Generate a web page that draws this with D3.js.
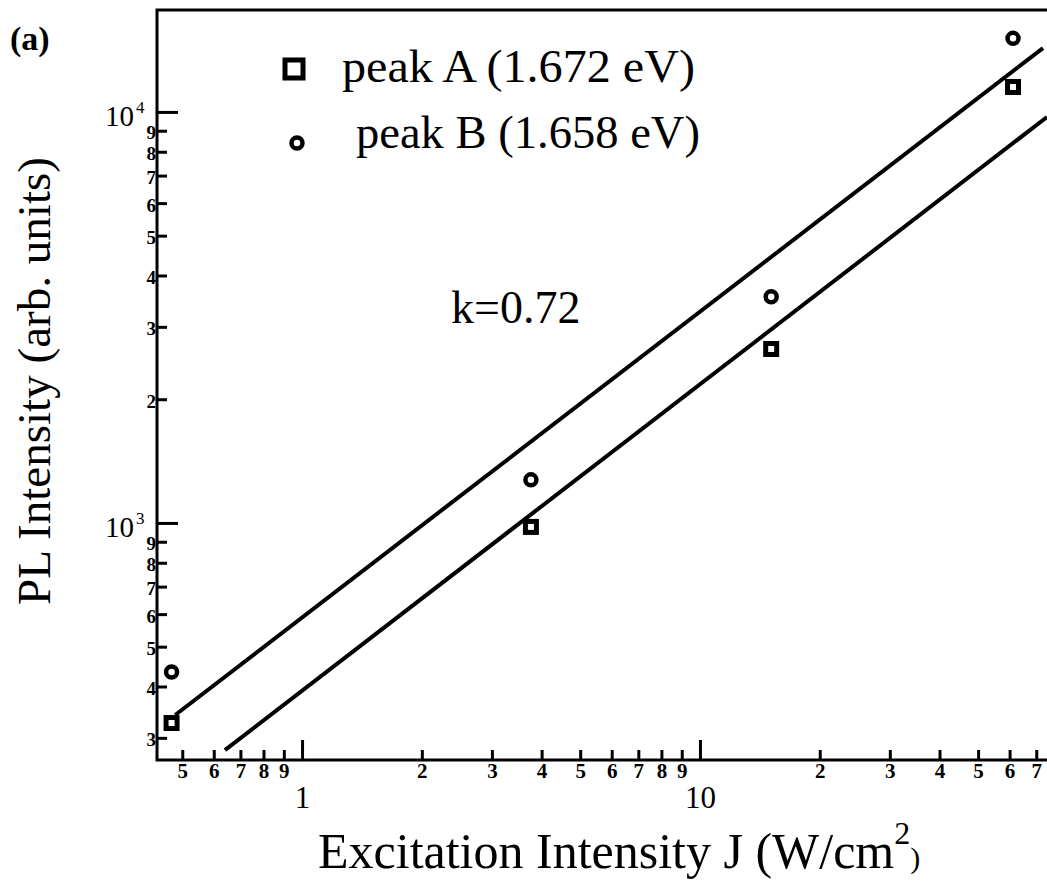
<!DOCTYPE html>
<html>
<head>
<meta charset="utf-8">
<script src="https://d3js.org/d3.v7.min.js"></script>
<style>
    body { margin: 0; background: #fff; }
    svg { display: block; font-family: "Liberation Serif", "Times New Roman", serif; }
</style>
</head>
<body>
<script>
// values
var excitation = [0.47, 3.76, 15.1, 61.2];   // J (W/cm2)
var peakA = [326, 978, 2650, 11500];          // squares
var peakB = [434, 1273, 3550, 15100];         // circles

// the two straight fits (end points)
var fitUpperJ = [0.48, 72.8];
var fitUpperI = [341, 14300];
var fitLowerJ = [0.64, 74.5];
var fitLowerI = [280, 9720];

var xDomain = [0.432, 75.8];
var yDomain = [265, 17700];

var xMinorTicks = [0.5, 0.6, 0.7, 0.8, 0.9, 2, 3, 4, 5, 6, 7, 8, 9, 20, 30, 40, 50, 60, 70];
var xMinorLabels = ['5', '6', '7', '8', '9', '2', '3', '4', '5', '6', '7', '8', '9', '2', '3', '4', '5', '6', '7'];
var xMajorTicks = [1, 10];
var xMajorLabels = ['1', '10'];

var yMinorTicks = [300, 400, 500, 600, 700, 800, 900, 2000, 3000, 4000, 5000, 6000, 7000, 8000, 9000];
var yMinorLabels = ['3', '4', '5', '6', '7', '8', '9', '2', '3', '4', '5', '6', '7', '8', '9'];
var yMajorTicks = [1000, 10000];
var yMajorExp = ['3', '4'];

var legendLabels = ['peak A (1.672 eV)', 'peak B (1.658 eV)'];

var width = 1047,
    height = 889;
// plot frame (right edge sits just off the page)
var pLeft = 157, pRight = 1050, pTop = 10, pBottom = 760;

var svg = d3.select('body')
    .append('svg')
    .attr('width', width)
    .attr('height', height);

// scales
var x = d3.scaleLog().domain(xDomain).range([pLeft, pRight]);
var y = d3.scaleLog().domain(yDomain).range([pBottom, pTop]);

function styleAxis(g, size, weight) {
    g.attr('font-family', '"Liberation Serif", serif')
        .attr('font-size', size)
        .attr('font-weight', weight);
    g.select('.domain').remove();
    g.selectAll('.tick line').attr('stroke', '#000').attr('stroke-width', 3);
    g.selectAll('.tick text').attr('fill', '#000');
}

// x axis, minor then major ticks
svg.append('g')
    .attr('transform', 'translate(0,' + pBottom + ')')
    .call(d3.axisBottom(x).tickValues(xMinorTicks).tickSize(-10).tickPadding(3)
        .tickFormat((d, i) => xMinorLabels[i]))
    .call(g => styleAxis(g, 21, 'bold'));

svg.append('g')
    .attr('transform', 'translate(0,' + pBottom + ')')
    .call(d3.axisBottom(x).tickValues(xMajorTicks).tickSize(-20).tickPadding(26)
        .tickFormat((d, i) => xMajorLabels[i]))
    .call(g => styleAxis(g, 31, 'normal'));

// y axis
svg.append('g')
    .attr('transform', 'translate(' + pLeft + ',0)')
    .call(d3.axisLeft(y).tickValues(yMinorTicks).tickSize(-10).tickPadding(1)
        .tickFormat((d, i) => yMinorLabels[i]))
    .call(g => styleAxis(g, 19, 'bold'))
    .call(g => g.selectAll('.tick text').attr('dy', '0.42em'));

svg.append('g')
    .attr('transform', 'translate(' + pLeft + ',0)')
    .call(d3.axisLeft(y).tickValues(yMajorTicks).tickSize(-21).tickFormat(''))
    .call(g => styleAxis(g, 28, 'normal'));

// 10^n labels
svg.selectAll('.pow')
    .data(yMajorTicks)
    .enter()
    .append('text')
    .attr('class', 'pow')
    .attr('x', 134)
    .attr('y', d => y(d) + 14)
    .attr('text-anchor', 'end')
    .attr('font-size', 29)
    .text('10');
svg.selectAll('.exp')
    .data(yMajorTicks)
    .enter()
    .append('text')
    .attr('class', 'exp')
    .attr('x', 136)
    .attr('y', d => y(d) + 1)
    .attr('font-size', 17)
    .text((d, i) => yMajorExp[i]);

// frame
svg.append('rect')
    .attr('x', pLeft)
    .attr('y', pTop)
    .attr('width', pRight - pLeft)
    .attr('height', pBottom - pTop)
    .attr('fill', 'none')
    .attr('stroke', '#000')
    .attr('stroke-width', 3);

// fit lines
var line = d3.line().x(d => x(d[0])).y(d => y(d[1]));
[[fitUpperJ, fitUpperI], [fitLowerJ, fitLowerI]].forEach(function (f) {
    svg.append('path')
        .datum(f[0].map((j, i) => [j, f[1][i]]))
        .attr('d', line)
        .attr('fill', 'none')
        .attr('stroke', '#000')
        .attr('stroke-width', 4);
});

// points
svg.selectAll('.sq')
    .data(excitation)
    .enter()
    .append('rect')
    .attr('class', 'sq')
    .attr('x', d => x(d) - 5.5)
    .attr('y', (d, i) => y(peakA[i]) - 5.5)
    .attr('width', 11)
    .attr('height', 11)
    .attr('fill', '#fff')
    .attr('stroke', '#000')
    .attr('stroke-width', 5);

svg.selectAll('.ci')
    .data(excitation)
    .enter()
    .append('circle')
    .attr('class', 'ci')
    .attr('cx', d => x(d))
    .attr('cy', (d, i) => y(peakB[i]))
    .attr('r', 5.5)
    .attr('fill', '#fff')
    .attr('stroke', '#000')
    .attr('stroke-width', 4.5);

// legend
svg.append('rect')
    .attr('x', 294 - 9).attr('y', 69 - 9)
    .attr('width', 18).attr('height', 18)
    .attr('fill', '#fff').attr('stroke', '#000').attr('stroke-width', 5);
svg.append('circle')
    .attr('cx', 297).attr('cy', 143).attr('r', 5.5)
    .attr('fill', '#fff').attr('stroke', '#000').attr('stroke-width', 4.5);

svg.append('text')
    .attr('x', 342).attr('y', 82)
    .attr('font-size', 46)
    .attr('textLength', 353).attr('lengthAdjust', 'spacingAndGlyphs')
    .text(legendLabels[0]);
svg.append('text')
    .attr('x', 356).attr('y', 148)
    .attr('font-size', 46)
    .attr('textLength', 344).attr('lengthAdjust', 'spacingAndGlyphs')
    .text(legendLabels[1]);

svg.append('text')
    .attr('x', 451).attr('y', 323)
    .attr('font-size', 46)
    .text('k=0.72');

svg.append('text')
    .attr('x', 10).attr('y', 50)
    .attr('font-size', 34)
    .attr('font-weight', 'bold')
    .text('(a)');

// axis titles
var xt = svg.append('text')
    .attr('x', 318).attr('y', 868)
    .attr('font-size', 50);
xt.append('tspan').text('Excitation Intensity J (W/cm');
xt.append('tspan').attr('font-size', 32).attr('dy', -24).text('2');
xt.append('tspan').attr('font-size', 30).attr('dy', 24).text(')');

svg.append('text')
    .attr('transform', 'translate(50,381) rotate(-90)')
    .attr('text-anchor', 'middle')
    .attr('font-size', 46)
    .attr('textLength', 448).attr('lengthAdjust', 'spacingAndGlyphs')
    .text('PL Intensity (arb. units)');
</script>
</body>
</html>
